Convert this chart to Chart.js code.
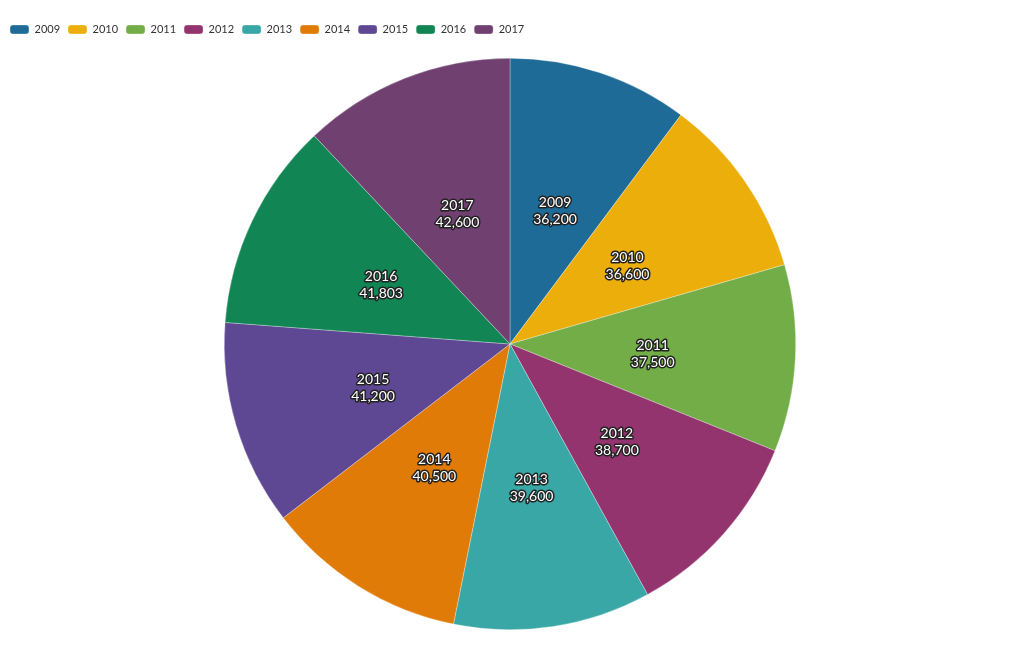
<!DOCTYPE html>
<html>
<head>
<meta charset="utf-8">
<script src="https://cdn.jsdelivr.net/npm/chart.js@4"></script>
<style>
html, body { margin: 0; padding: 0; background: #fff; }
#wrap { width: 1020px; height: 650px; }
</style>
</head>
<body>
<div id="wrap"><canvas id="tarta"></canvas></div>
<script>
/* DATOS */
const anios = ['2009','2010','2011','2012','2013','2014','2015','2016','2017'];
const valores = [36200,36600,37500,38700,39600,40500,41200,41803,42600];
const colores = ['#1f6b97','#ecae0b','#72ad48','#93346f','#39a7a5','#e07b07','#5e4893','#118553','#704170'];

/* ESPACIO EXTRA DEBAJO DE LA LEYENDA */
const espacioLeyenda = {
  id: 'espacioLeyenda',
  beforeInit(chart) {
    const fitOriginal = chart.legend.fit;
    chart.legend.fit = function () {
      fitOriginal.bind(chart.legend)();
      this.height += 13;
    };
  }
};

/* ETIQUETAS DENTRO DE CADA SECTOR */
const etiquetas = {
  id: 'etiquetas',
  afterDatasetsDraw(chart) {
    const c = chart.ctx;
    const meta = chart.getDatasetMeta(0);
    c.save();
    c.font = '14px Lato';
    c.textAlign = 'center';
    c.textBaseline = 'middle';
    c.lineJoin = 'round';
    meta.data.forEach((arc, i) => {
      const p = arc.getProps(['x','y','startAngle','endAngle','outerRadius'], true);
      const a = (p.startAngle + p.endAngle) / 2;
      const r = p.outerRadius * 0.5;
      const x = p.x + Math.cos(a) * r;
      const y = p.y + Math.sin(a) * r + 3;
      const lineas = [chart.data.labels[i], valores[i].toLocaleString('en-US')];
      lineas.forEach((t, k) => {
        const yy = y + (k - 0.5) * 17;
        c.strokeStyle = '#222';
        c.lineWidth = 3;
        c.strokeText(t, x, yy);
        c.fillStyle = '#fff';
        c.fillText(t, x, yy);
      });
    });
    c.restore();
  }
};

new Chart(document.getElementById('tarta'), {
  type: 'pie',
  data: {
    labels: anios,
    datasets: [{
      data: valores,
      backgroundColor: colores,
      borderColor: 'rgba(255,255,255,0.6)',
      borderWidth: 0.5
    }]
  },
  options: {
    responsive: true,
    maintainAspectRatio: false,
    animation: false,
    layout: { padding: { top: 16, bottom: 20, left: 2, right: 2 } },
    plugins: {
      tooltip: { enabled: false },
      legend: {
        position: 'top',
        align: 'start',
        labels: {
          boxWidth: 19,
          boxHeight: 9,
          useBorderRadius: true,
          borderRadius: 3,
          padding: 8,
          color: '#333',
          font: { family: 'Lato', size: 11 }
        }
      }
    }
  },
  plugins: [espacioLeyenda, etiquetas]
});
</script>
</body>
</html>
